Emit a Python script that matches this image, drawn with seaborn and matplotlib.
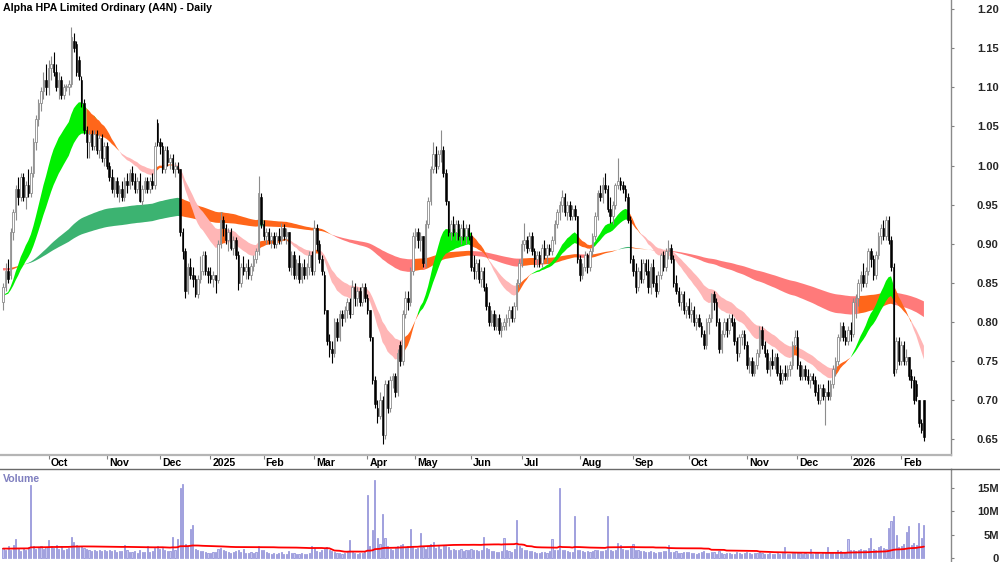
import numpy as np
import pandas as pd
import matplotlib
matplotlib.use("Agg")
import matplotlib.pyplot as plt
import matplotlib.transforms as mtransforms
from matplotlib.lines import Line2D
import seaborn as sns

# ---------------- data ----------------
TITLE = "Alpha HPA Limited Ordinary (A4N) - Daily"
FIRST_DAY = "2024-09-05"
LAST_DAY = "2026-02-13"
ASX_HOLIDAYS = ["2024-12-25", "2024-12-26", "2025-01-01", "2025-01-27", "2025-04-18",
                "2025-04-21", "2025-04-25", "2025-06-09", "2025-12-25", "2025-12-26",
                "2026-01-01", "2026-01-26"]
MONTH_LABELS = ["Oct", "Nov", "Dec", "2025", "Feb", "Mar", "Apr", "May", "Jun", "Jul",
                "Aug", "Sep", "Oct", "Nov", "Dec", "2026", "Feb"]
PRICE_TICKS = [0.65, 0.70, 0.75, 0.80, 0.85, 0.90, 0.95, 1.00, 1.05, 1.10, 1.15, 1.20]
VOLUME_TICKS = [0, 5, 10, 15]
VOLUME_TICK_LABELS = ["0", "5M", "10M", "15M"]

# prices in cents, one row per month
OPEN = [
    82.5, 84.5, 86.5, 86, 91.5, 94, 97, 96, 98.5, 96, 97.5, 96.5, 99, 103, 106, 108, 109.5, 111,
    110, 112.5, 113, 112, 110, 111, 109, 110, 110, 110.5, 116, 115.5, 113.5, 111, 108, 104.5, 103, 104, 102.5, 104, 102, 103.5, 101,
    102.5, 100, 98.5, 97, 98, 96.5, 97, 96, 98, 97.5, 99, 98, 97, 98, 95.5, 97, 98, 97, 98, 97.5, 105.5,
    103, 102.5, 99.5, 102, 100.5, 101, 99.5, 100, 99.5, 91.5, 89, 84, 87, 86, 85.5, 83.5, 85.5, 86.5, 88.5, 86.5,
    86, 85.5, 86, 85.3, 90, 93, 92, 90.5, 91.5, 89.5, 90.5, 88.5, 85, 87, 86.5, 87, 86, 87.2, 88, 89, 96,
    92.5, 91, 91.5, 90.5, 91, 90, 91, 90.5, 92, 91, 91.5, 87, 88.5, 86, 87.5, 85.5, 87, 86, 87, 88.5,
    86.5, 92, 90, 88, 86, 81.5, 77.5, 76.5, 76, 80, 78, 81, 80.5, 81.5, 82.5, 81, 84.5, 83, 84, 82.5, 84.5,
    83, 81.5, 78, 72.5, 69, 68, 70, 65.5, 72, 69, 72.5, 73, 71, 77, 75, 81, 83, 82.5, 86.5,
    91, 91.5, 90.5, 91, 87.5, 92.5, 95.5, 99.5, 101.5, 100, 101.5, 102, 99, 95.5, 91.5, 92.5, 91.5, 92.5, 91, 92, 91, 92,
    91, 87, 86.5, 87.5, 85.5, 86.5, 84.5, 82, 80, 81, 79.5, 80.5, 79, 79.5, 80, 80.5, 81.5, 80.5, 82, 85,
    87.5, 90, 90.5, 89.5, 91, 89, 88, 88.5, 87.5, 89.5, 88.5, 89.5, 89, 90.5, 92.5, 94, 95, 96, 94, 95, 93.5, 94.5, 93.5,
    88, 86, 87, 88.5, 87, 89, 91, 93.5, 96.5, 96, 97.5, 97, 94.5, 93.5, 95, 97.5, 98, 97.5, 97, 96, 93,
    88, 86.5, 84.5, 86.5, 85.5, 87.5, 86.5, 84.5, 87, 85, 84, 86, 88.5, 87, 89, 89.5, 88, 85, 84, 82.5, 83.5, 81.5,
    82, 81, 81.5, 80, 80.5, 79.5, 78.5, 77, 80, 80.5, 83.5, 82.5, 80, 76.5, 78.5, 80, 79, 80.5, 80, 77.5, 76, 78, 78.5,
    77, 74.5, 75, 73.5, 74.5, 76, 79, 77, 76, 74, 75, 74.5, 75.5, 73.5, 72.5, 73.5, 73, 74, 74.5, 77,
    78, 74.5, 73, 74, 73, 72.5, 73, 72.5, 71, 70, 71.5, 70.5, 71, 70.5, 72, 74, 75, 78, 79.5, 78, 77.5,
    79, 78.5, 82.5, 83, 85, 86, 85, 86.5, 89, 88, 86, 88.5, 91, 92, 91, 93, 90.5, 87, 74, 77.5,
    75, 77, 75, 75.5, 73, 72.5, 72, 70, 67, 70,
]
HIGH = [
    85, 87.5, 88, 92, 94.5, 97.5, 98.5, 99, 99, 98, 99.5, 100, 103.5, 106.5, 108.5, 110, 112, 113,
    113.5, 114, 114.5, 113, 112, 111.5, 110.5, 110.5, 111, 117.7, 117, 116, 114, 111.5, 108.5, 105, 104.5, 104.5, 104.5, 104.5, 104, 104, 103,
    103, 100.5, 99.5, 98.5, 98.5, 97.5, 98, 98.5, 99, 99.5, 100, 99, 98.5, 99, 97.5, 98.5, 98.5, 98.5, 99, 103, 106,
    103.5, 103, 102.5, 102.5, 101.5, 101.5, 100.5, 100.5, 99.5, 92, 89.5, 87.5, 88.2, 87, 86, 86, 88.4, 89, 89, 87,
    87, 86.5, 86, 90.5, 94, 93.5, 92.5, 92, 92, 91, 90.8, 89, 87.5, 88.4, 87.5, 88, 87.5, 88.5, 89.5, 98.6, 96.5,
    93, 92, 92, 91.5, 91.5, 91.5, 92, 92.6, 92.5, 92, 91.5, 89, 89, 88, 88.5, 87.5, 88, 87.5, 89, 89,
    93, 92.5, 90.5, 88.5, 86.5, 81.5, 78.5, 77.5, 80.5, 80.5, 81.5, 81.5, 82, 83, 83, 85.3, 85, 84.5, 84.5, 85, 85,
    83.5, 81.5, 78, 73, 70, 71, 70.5, 72.5, 72.5, 73, 73.5, 73.5, 76.5, 77.5, 81.5, 84, 84, 87, 91.5,
    92, 92, 91.5, 91, 93, 96, 100, 103, 102.5, 102, 104.5, 102.5, 99.5, 95.5, 93, 93.5, 93, 93, 92.5, 93, 92.5, 92.5,
    91.5, 88.5, 88, 88, 87, 87, 85, 82.5, 81.5, 81.5, 81, 81, 80, 80.5, 81, 82, 82, 82.5, 85.5, 88,
    90.5, 92.6, 91, 91.5, 91.5, 89.5, 89, 89, 90, 90.5, 90, 90, 91, 93, 94.5, 95.5, 96.9, 96.5, 95.5, 95.5, 95, 95, 93.5,
    88.5, 87.5, 89, 88.8, 89.5, 91.4, 94, 96.9, 97.5, 98.5, 99, 97.5, 96, 95.5, 97.8, 101, 98.5, 98, 97.5, 96.5, 93.5,
    88.5, 87.5, 87, 88, 88, 88, 88, 87.5, 88, 86, 86.5, 88.8, 89, 89.5, 90.5, 90, 88.5, 86, 84.5, 84, 84, 82.5,
    83, 82.5, 82, 81, 81, 80, 79, 80.5, 81, 83.7, 84, 83, 80.5, 79, 80.5, 80.5, 81, 81, 80.5, 78, 78.5, 79, 79,
    77.5, 75.5, 75.5, 75, 76.5, 79.5, 79.5, 77.5, 76.5, 75.5, 76.5, 76, 76, 74.5, 74, 74.5, 74.5, 75, 77.5, 79,
    79, 75, 74.5, 74.5, 74, 73.5, 73.5, 73, 72, 72, 72, 71.5, 72.5, 72.5, 74.5, 75.5, 78.5, 80, 80, 79, 79.5,
    80, 83, 83.5, 85.5, 86.5, 87.5, 87, 89.5, 89.5, 88.5, 89, 91.5, 92.5, 93, 93.6, 93.6, 91, 87.5, 78, 78,
    77.5, 77.5, 76.5, 75.5, 74, 73, 72.5, 70, 67.5, 70,
]
LOW = [
    81.5, 84, 85, 85.5, 90.5, 93, 95, 95.5, 95.5, 94.5, 96, 96, 98.5, 102, 105, 107, 108.5, 109,
    109, 111, 111.5, 109.5, 108.5, 108.5, 108.5, 109.5, 109, 110, 114.5, 111.5, 111, 107.5, 104, 101, 101, 102, 102, 101.5, 101, 100.5, 100,
    99.5, 98, 96.5, 96, 96, 95.3, 95.5, 95.5, 96.5, 97, 97.5, 96.5, 96.5, 95.3, 95, 96.5, 96.5, 96.5, 97, 97, 102.5,
    101.5, 99, 99, 100, 99.5, 99, 98.5, 99, 91, 88, 83, 83.5, 85.5, 84.5, 83.2, 83, 85, 86, 86, 85,
    85, 84.5, 83.7, 85, 89.5, 91, 90, 89, 89.2, 88.5, 88, 84.1, 84.5, 86, 85.5, 85.5, 85.3, 86.5, 87.5, 88.5, 92,
    90.5, 90, 90, 89.5, 89.5, 89.5, 90, 90, 90.5, 90, 86.5, 86, 85.5, 85.5, 85, 85, 85.5, 85.5, 86, 86,
    86, 89, 87.5, 86, 81, 77, 75.5, 74.7, 75.5, 77.5, 77.5, 79.5, 80, 80.5, 80.5, 81, 82, 82, 82, 82, 82.5,
    81, 77.5, 72, 69, 67, 67.5, 64.3, 65, 68.3, 68.5, 71.5, 70.4, 70.5, 74.3, 74.5, 80.5, 81.5, 82, 86,
    89.5, 89.5, 89, 87, 87, 92, 95, 99, 99, 99.5, 100.5, 98.5, 95, 91, 90.5, 91, 90.5, 90.5, 90, 90.5, 90, 90.5,
    86.5, 85.5, 85.5, 85, 84.5, 84, 81.5, 79.5, 79.5, 79, 79, 78.5, 78, 79, 79, 79.5, 80, 80, 81.5, 84.5,
    87, 89, 88.8, 89, 88.5, 87, 87, 87, 87, 88, 87.5, 88.5, 88.5, 90, 92, 93, 94, 93.5, 93, 93, 93, 93, 87.5,
    85.2, 85.5, 86.5, 86.2, 86.5, 88.5, 90.5, 93, 95.5, 95.2, 96.5, 94, 92.6, 92.5, 94.5, 97, 96.9, 96.5, 95.5, 92.6, 87.5,
    85.8, 83.7, 84, 85, 85, 86, 83.7, 83.5, 84.5, 83.2, 83.5, 85.5, 86.5, 86.5, 88, 87.5, 84.5, 83.5, 82, 81.5, 81, 80.5,
    80.5, 80, 79.5, 79, 79.3, 78, 76.5, 76.5, 78.5, 80, 81.5, 79.5, 76, 76, 78, 78, 78.5, 79.5, 77, 75, 75.5, 77, 76.5,
    74, 73.5, 73, 73, 74, 75.5, 76.5, 75.5, 73.5, 73, 74, 74, 73, 72, 72, 72.5, 72.5, 73, 74, 76.5,
    74, 72.5, 72.5, 72.5, 72, 71.5, 72, 70.5, 69.5, 69.5, 70, 66.8, 70, 70, 71.5, 73, 74.5, 77.5, 77.5, 77, 77,
    77.5, 78, 80.5, 82, 84, 84.5, 84.5, 86, 87, 85.3, 85.5, 88, 90, 90.5, 90.5, 90, 86.5, 73, 73.5, 74.5,
    74.5, 74.5, 74.5, 72.5, 71.5, 69.5, 69.8, 66.5, 65.8, 64.8,
]
CLOSE = [
    84.5, 86.5, 85.5, 91.5, 94, 97, 96, 98.5, 96, 97.5, 96.5, 99, 103, 106, 108, 109.5, 111, 110,
    112.5, 113, 112, 110, 111, 109, 110, 110, 110.5, 116.5, 115, 112, 111.5, 108, 104.5, 103, 104, 102.5, 104, 102, 103.5, 101, 102.5,
    100, 98.5, 97, 98, 96.5, 97, 96, 98, 97.5, 99, 98, 97, 98, 95.5, 97, 98, 97, 98, 97.5, 102.5, 103,
    102.5, 99.5, 102, 100.5, 101, 99.5, 100, 99.5, 91.5, 89, 84, 87, 86, 85.5, 83.5, 85.5, 86.5, 88.5, 86.5, 86,
    85.5, 86, 85.3, 90, 93, 92, 90.5, 91.5, 89.5, 90.5, 88.5, 85, 87, 86.5, 87, 86, 87.2, 88, 89, 96.5, 92.5,
    91, 91.5, 90.5, 91, 90, 91, 90.5, 92, 91, 91.5, 87, 88.5, 86, 87.5, 85.5, 87, 86, 87, 88.5, 86.5,
    92, 90, 88, 86.5, 81.5, 77.5, 76.5, 76, 80, 78, 81, 80.5, 81.5, 82.5, 81, 84.5, 83, 84, 82.5, 84.5, 83,
    81.5, 78, 72.5, 69.5, 68, 70, 65.5, 72, 69, 72.5, 73, 71, 76, 75, 81, 83, 82.5, 86.5, 91,
    91.5, 90.5, 91, 87.5, 92.5, 95.5, 99.5, 101.5, 100, 101.5, 102, 99, 95.5, 91.5, 92.5, 91.5, 92.5, 91, 92, 91, 92, 91,
    87, 86.5, 87.5, 85.5, 86.5, 84.5, 82, 80, 81, 79.5, 80.5, 79, 79.5, 80, 80.5, 81.5, 80.5, 82, 85, 87.5,
    90, 90.5, 89.5, 91, 89, 88, 88.5, 87.5, 89.5, 88.5, 89.5, 89, 90.5, 92.5, 94, 95, 96, 94, 95, 93.5, 94.5, 93.5, 88,
    86, 87, 88.5, 87, 89, 91, 93.5, 96.5, 96, 97.5, 97, 94.5, 93.5, 95, 97.5, 98, 97.5, 97, 96, 93, 88,
    86.5, 84.5, 86.5, 85.5, 87.5, 86.5, 84.5, 87, 85, 84, 86, 88.5, 87, 89, 89.5, 88, 85, 84, 82.5, 83.5, 81.5, 82,
    81, 81.5, 80, 80.5, 79.5, 78.5, 77, 80, 80.5, 83.5, 82.5, 80, 76.5, 78.5, 80, 79, 80.5, 80, 77.5, 76, 78, 78.5, 77,
    74.5, 75, 73.5, 74.5, 76, 79, 77, 76, 74, 75, 74.5, 75.5, 73.5, 72.5, 73.5, 73, 74, 74.5, 77, 78,
    74.5, 73, 74, 73, 72.5, 73, 72.5, 71, 70, 71.5, 70.5, 71, 70.5, 72, 74, 75, 78, 79.5, 78, 77.5, 79,
    78.5, 82.5, 83, 85, 86, 85, 86.5, 89, 88, 86, 88.5, 91, 92, 91, 93, 90.5, 87, 73.5, 77.5, 75,
    77, 75, 75.5, 73, 72.5, 70, 70.5, 67, 66.2, 65.2,
]
# volume in millions of shares
VOLUME = [
    2.2, 1.8, 2.5, 1.6, 2.8, 4.0, 2.0, 1.5, 2.2, 1.8, 2.4, 15.5, 2.6, 2.0, 2.3, 2.5, 1.9, 2.4,
    3.8, 2.5, 2.2, 2.8, 2.0, 2.6, 1.8, 2.0, 2.2, 4.5, 3.5, 2.8, 2.4, 2.6, 2.2, 2.0, 1.6, 1.5, 1.8, 1.4, 1.6, 1.5, 1.8,
    1.5, 1.8, 1.4, 1.6, 1.3, 1.5, 1.4, 2.8, 1.6, 1.3, 1.2, 1.4, 1.1, 1.8, 1.3, 1.2, 2.5, 1.3, 1.4, 2.2, 2.5,
    2.0, 2.2, 1.6, 1.4, 1.5, 4.5, 1.8, 4.0, 14.9, 15.7, 3.0, 2.5, 6.2, 7.0, 2.0, 1.6, 1.4, 1.5, 1.2, 1.0,
    1.0, 1.2, 1.3, 2.0, 2.2, 1.6, 1.4, 1.2, 1.1, 1.3, 1.4, 1.8, 1.2, 2.0, 1.1, 1.0, 1.2, 1.1, 1.3, 2.6, 1.8,
    1.6, 1.2, 1.0, 0.9, 1.1, 0.8, 1.0, 1.2, 0.9, 0.8, 1.5, 1.1, 1.0, 0.9, 0.8, 1.0, 0.9, 0.8, 1.1, 2.5,
    2.2, 1.5, 1.3, 1.6, 2.0, 2.4, 1.8, 1.4, 1.2, 1.0, 1.1, 0.9, 1.0, 1.2, 3.8, 1.3, 1.0, 0.9, 1.1, 1.0, 1.2,
    13.4, 2.5, 6.0, 16.6, 4.2, 3.0, 9.3, 4.2, 2.5, 2.0, 1.8, 2.2, 2.5, 2.8, 3.0, 2.2, 2.6, 6.2, 2.4,
    2.0, 2.2, 5.3, 2.4, 2.0, 2.6, 3.0, 3.4, 2.2, 2.5, 2.0, 2.8, 2.6, 2.3, 1.8, 2.0, 1.6, 1.8, 2.0, 1.5, 1.8, 1.6,
    2.0, 1.8, 1.6, 1.5, 1.8, 4.5, 2.2, 2.0, 1.5, 1.4, 1.3, 1.2, 1.5, 4.2, 1.6, 1.4, 1.3, 2.0, 8.0, 2.5,
    2.2, 1.8, 1.6, 1.5, 1.4, 1.2, 1.0, 1.1, 1.3, 1.2, 1.1, 1.5, 4.0, 1.8, 1.6, 15.0, 1.8, 1.6, 1.4, 1.3, 1.2, 9.0, 1.8,
    1.6, 1.4, 1.3, 1.5, 1.2, 1.4, 1.6, 1.8, 1.5, 1.4, 1.6, 9.0, 1.8, 1.5, 1.6, 3.2, 2.8, 2.0, 1.8, 1.6, 2.4,
    3.0, 1.8, 1.6, 1.4, 1.5, 1.2, 1.3, 1.4, 1.2, 1.1, 1.3, 1.2, 1.5, 1.4, 2.7, 1.3, 1.2, 1.4, 1.1, 1.0, 1.2, 1.3,
    1.2, 1.0, 1.1, 0.9, 1.0, 1.2, 1.4, 1.1, 1.0, 1.3, 1.2, 0.9, 1.4, 1.0, 0.9, 1.0, 1.1, 0.8, 0.9, 1.2, 1.0, 0.9, 1.1,
    1.3, 1.0, 0.9, 1.1, 1.0, 1.2, 1.0, 0.9, 0.8, 1.0, 0.9, 0.8, 1.0, 0.9, 1.1, 2.3, 0.9, 0.8, 1.0, 1.1,
    1.2, 1.0, 0.9, 1.0, 0.8, 2.0, 0.9, 1.0, 1.1, 0.9, 1.0, 1.2, 2.3, 1.1, 1.3, 1.0, 1.6, 1.4, 1.2, 1.1, 4.0,
    1.6, 1.8, 1.5, 1.6, 2.0, 1.8, 1.7, 2.2, 4.2, 2.0, 1.8, 2.4, 2.6, 2.2, 2.0, 6.3, 7.9, 9.0, 5.0, 2.4,
    2.6, 3.0, 5.6, 6.8, 2.8, 3.2, 2.8, 7.4, 4.2, 7.1,
]

# indicator settings (exponential averages of the close, fast/slow pairs)
SHORT_EMA = (21, 34)
LONG_EMA = (144, 233)
SHORT_SEED = (0.832, 0.832)   # average values just before the first bar
LONG_SEED = (0.866, 0.869)
VOL_MA = 60
VOL_SEED = 2.0

# ---------------- computation ----------------
dates = pd.bdate_range(FIRST_DAY, LAST_DAY, freq="C", holidays=ASX_HOLIDAYS)
n = min(len(dates), len(CLOSE), len(OPEN), len(HIGH), len(LOW), len(VOLUME))
dates = dates[:n]
o = np.array(OPEN[:n]) / 100.0
h = np.array(HIGH[:n]) / 100.0
l = np.array(LOW[:n]) / 100.0
c = np.array(CLOSE[:n]) / 100.0
vol = np.array(VOLUME[:n])
x = np.arange(n)


def ema(values, period, seed):
    a = 2.0 / (period + 1)
    out = np.empty(len(values))
    prev = seed
    for i, v in enumerate(values):
        prev = prev + a * (v - prev)
        out[i] = prev
    return out


months = dates.to_period("M")
month_starts = [i for i in range(1, n) if months[i] != months[i - 1]]

vol_padded = np.concatenate([np.full(VOL_MA - 1, VOL_SEED), vol])
vol_ma = pd.Series(vol_padded).rolling(VOL_MA).mean().to_numpy()[VOL_MA - 1:]

# ---------------- drawing ----------------
sns.set_theme(style="white")
plt.rcParams["font.family"] = ["Liberation Sans", "DejaVu Sans"]

W, H = 1000, 562
fig = plt.figure(figsize=(10, 5.62), dpi=100)
fig.patch.set_facecolor("white")
axp = fig.add_axes([0, 1 - 455 / H, 951 / W, 455 / H])
axv = fig.add_axes([0, 0, 951 / W, (562 - 469) / H])

XMIN, XMAX = -1.19, 374.7


def ribbon(ax, fast, slow, slow_seed, colors, z):
    slope = np.diff(np.concatenate([[slow_seed], slow]))
    up = (fast > slow) & (slope > 0)
    down = (fast < slow) & (slope < 0)
    mid = ~(up | down)
    lo = np.minimum(fast, slow)
    hi = np.maximum(fast, slow)
    for mask, col in ((up, colors[0]), (mid, colors[1]), (down, colors[2])):
        m = mask.copy()
        m[1:] |= mask[:-1]
        ax.fill_between(x, lo, hi, where=m, color=col, linewidth=0, zorder=z)


long_fast = ema(c, LONG_EMA[0], LONG_SEED[0])
long_slow = ema(c, LONG_EMA[1], LONG_SEED[1])
short_fast = ema(c, SHORT_EMA[0], SHORT_SEED[0])
short_slow = ema(c, SHORT_EMA[1], SHORT_SEED[1])

ribbon(axp, long_fast, long_slow, LONG_SEED[1], ("#3cb371", "#ff661a", "#ff7a7a"), 1)
ribbon(axp, short_fast, short_slow, SHORT_SEED[1], ("#00f000", "#ff661a", "#ffb6b6"), 2)

up = c >= o
body_lo = np.minimum(o, c)
body_h = np.maximum(np.abs(c - o), 0.0015)
axp.vlines(x[up], l[up], h[up], color="#8c8c8c", linewidth=0.8, zorder=3)
axp.vlines(x[~up], l[~up], h[~up], color="black", linewidth=0.8, zorder=3)
axp.bar(x[up], body_h[up], bottom=body_lo[up], width=0.62, color="white",
        edgecolor="#8c8c8c", linewidth=0.6, zorder=4)
axp.bar(x[~up], body_h[~up], bottom=body_lo[~up], width=0.62, color="black",
        edgecolor="black", linewidth=0.4, zorder=4)

axp.set_xlim(XMIN, XMAX)
axp.set_ylim(0.6295, 1.2119)
axp.set_facecolor("white")
axp.grid(False)
for s in ("left", "top"):
    axp.spines[s].set_visible(False)
axp.spines["right"].set_color("#8a8a8a")
axp.spines["right"].set_linewidth(1.0)
axp.spines["bottom"].set_color("#b5b5b5")
axp.spines["bottom"].set_linewidth(1.6)

axp.yaxis.tick_right()
axp.set_yticks(PRICE_TICKS)
axp.set_yticklabels([f"{t:.2f}" for t in PRICE_TICKS])
axp.tick_params(axis="y", which="both", direction="out", length=2.5, width=0.8,
                color="#808080", pad=31.8, labelsize=8, right=True, left=False)
for lab in axp.get_yticklabels():
    lab.set_horizontalalignment("right")
    lab.set_fontweight("bold")

axp.set_xticks(month_starts)
axp.set_xticklabels([])
axp.tick_params(axis="x", direction="out", length=3, width=0.8, color="#808080", bottom=True)

trans = mtransforms.blended_transform_factory(axp.transData, fig.transFigure)
for pos, lab in zip(month_starts, MONTH_LABELS):
    axp.text(pos + 0.8, 1 - 462.7 / H, lab, transform=trans, ha="left", va="center",
             fontsize=7.6, fontweight="bold", color="black", clip_on=False)

fig.text(3 / W, 1 - 8.3 / H, TITLE, ha="left", va="center", fontsize=7.7,
         fontweight="bold", color="black")

# separator running under the label column too
fig.add_artist(Line2D([951 / W, 1.0], [1 - 469 / H, 1 - 469 / H], color="#6a6a6a",
                      linewidth=1.0, transform=fig.transFigure))

# volume panel
axv.bar(x, vol, width=0.45, color="#c6c6f0", edgecolor="#7c7cd0", linewidth=0.45, zorder=2)
sns.lineplot(x=x, y=vol_ma, ax=axv, color="#ff0000", linewidth=1.3, zorder=3)
axv.set_xlim(XMIN, XMAX)
axv.set_ylim(-0.85, 18.94)
axv.set_facecolor("white")
axv.grid(False)
for s in ("left", "bottom"):
    axv.spines[s].set_visible(False)
axv.spines["top"].set_color("#6a6a6a")
axv.spines["top"].set_linewidth(1.0)
axv.spines["right"].set_color("#8a8a8a")
axv.spines["right"].set_linewidth(1.0)
axv.set_xticks([])
axv.yaxis.tick_right()
axv.set_yticks(VOLUME_TICKS)
axv.set_yticklabels(VOLUME_TICK_LABELS)
axv.tick_params(axis="y", direction="out", length=2.5, width=0.8, color="#808080",
                pad=31.8, labelsize=8, right=True, left=False)
for lab in axv.get_yticklabels():
    lab.set_horizontalalignment("right")
    lab.set_fontweight("bold")
axv.set_xlabel("")
axv.set_ylabel("")
axv.text(3 / W * (XMAX - XMIN) / (951 / W) + XMIN, 16.9, "Volume", ha="left", va="center",
         fontsize=7.6, fontweight="bold", color="#7f7fbf")

fig.savefig("out.png", dpi=100, facecolor="white")
